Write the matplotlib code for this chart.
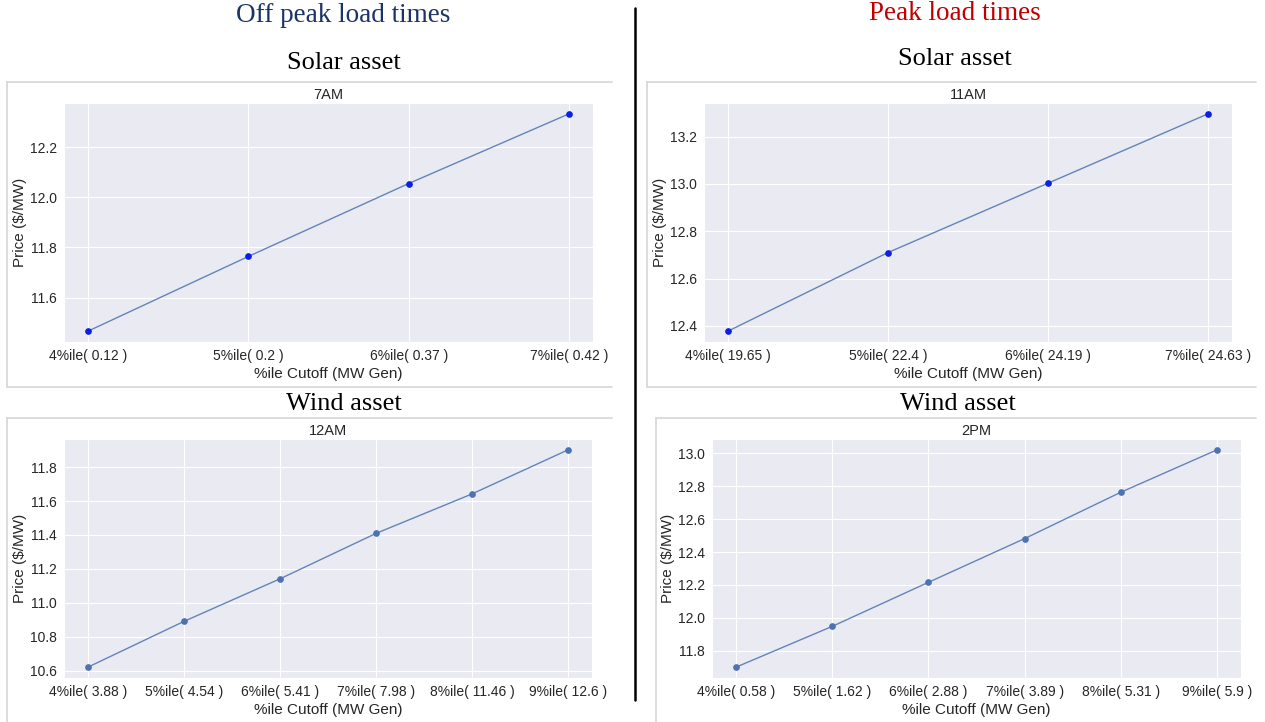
import matplotlib
matplotlib.use("Agg")
import matplotlib.pyplot as plt
import seaborn as sns
from matplotlib.lines import Line2D

# ---------------- data ----------------
solar_off_labels = ['4%ile( 0.12 )', '5%ile( 0.2 )', '6%ile( 0.37 )', '7%ile( 0.42 )']
solar_off_prices = [11.466, 11.764, 12.055, 12.333]

solar_peak_labels = ['4%ile( 19.65 )', '5%ile( 22.4 )', '6%ile( 24.19 )', '7%ile( 24.63 )']
solar_peak_prices = [12.378, 12.710, 13.003, 13.296]

wind_off_labels = ['4%ile( 3.88 )', '5%ile( 4.54 )', '6%ile( 5.41 )', '7%ile( 7.98 )',
                   '8%ile( 11.46 )', '9%ile( 12.6 )']
wind_off_prices = [10.620, 10.890, 11.141, 11.409, 11.642, 11.902]

wind_peak_labels = ['4%ile( 0.58 )', '5%ile( 1.62 )', '6%ile( 2.88 )', '7%ile( 3.89 )',
                    '8%ile( 5.31 )', '9%ile( 5.9 )']
wind_peak_prices = [11.700, 11.948, 12.216, 12.482, 12.764, 13.022]

# ---------------- style ----------------
sns.set_style('darkgrid')
plt.rcParams['font.family'] = ['Liberation Sans', 'DejaVu Sans']

W, H = 1265, 722
fig = plt.figure(figsize=(W / 100, H / 100), dpi=100)
fig.patch.set_facecolor('white')


def rect(x0, y0, x1, y1):
    return [x0 / W, 1 - y1 / H, (x1 - x0) / W, (y1 - y0) / H]


def fx(x):
    return x / W


def fy(y):
    return 1 - y / H


def panel(r, labels, prices, title, marker_color, xmargin):
    ax = fig.add_axes(r)
    n = len(labels)
    xs = list(range(n))
    ax.plot(xs, prices, color='#4c72b0', lw=1.0, alpha=0.85, zorder=2)
    ax.plot(xs, prices, linestyle='none', marker='o', markersize=3.8,
            markerfacecolor=marker_color, markeredgecolor=marker_color, zorder=3)
    ax.set_xticks(xs)
    ax.set_xticklabels(labels)
    ax.set_xlim(-xmargin, n - 1 + xmargin)
    ax.tick_params(axis='both', labelsize=10, colors='#262626', length=0, pad=5)
    ax.set_xlabel('%ile Cutoff (MW Gen)', fontsize=11, color='#262626', labelpad=3)
    ax.set_ylabel('Price ($/MW)', fontsize=11, color='#262626', labelpad=2)
    ax.set_title(title, fontsize=10.5, color='#262626', pad=3)
    return ax


panel(rect(64, 103, 593, 342), solar_off_labels, solar_off_prices, '7AM', '#0a1fe8', 0.15)
panel(rect(704, 103, 1232, 342), solar_peak_labels, solar_peak_prices, '11AM', '#0a1fe8', 0.15)
panel(rect(64, 439, 592, 678), wind_off_labels, wind_off_prices, '12AM', '#4c72b0', 0.25)
panel(rect(712, 439, 1241, 678), wind_peak_labels, wind_peak_prices, '2PM', '#4c72b0', 0.25)

# panel frames (light gray)
box_col = '#d6d6d6'


def hline(x0, x1, y):
    fig.add_artist(Line2D([fx(x0), fx(x1)], [fy(y), fy(y)], color=box_col, lw=1.2,
                          transform=fig.transFigure))


def vline(x, y0, y1, color=box_col, lw=1.2):
    fig.add_artist(Line2D([fx(x), fx(x)], [fy(y0), fy(y1)], color=color, lw=lw,
                          transform=fig.transFigure))


hline(7, 612, 82); hline(7, 612, 387); vline(7, 82, 387)
hline(647, 1256, 82); hline(647, 1256, 387); vline(647, 82, 387)
hline(7, 612, 418); vline(7, 418, 722)
hline(656, 1256, 418); vline(656, 418, 722)

# divider
vline(634.5, 8, 700, color='black', lw=1.8)

# headings
serif = ['Liberation Serif', 'DejaVu Serif']
fig.text(fx(343), fy(15), 'Off peak load times', ha='center', va='center',
         fontsize=19.5, color='#1b3468', family=serif)
fig.text(fx(955), fy(13), 'Peak load times', ha='center', va='center',
         fontsize=19.5, color='#c00000', family=serif)
fig.text(fx(344), fy(63), 'Solar asset', ha='center', va='center',
         fontsize=19, color='black', family=serif)
fig.text(fx(955), fy(59), 'Solar asset', ha='center', va='center',
         fontsize=19, color='black', family=serif)
fig.text(fx(344), fy(404), 'Wind asset', ha='center', va='center',
         fontsize=19, color='black', family=serif)
fig.text(fx(958), fy(404), 'Wind asset', ha='center', va='center',
         fontsize=19, color='black', family=serif)

fig.savefig('out.png', dpi=100, facecolor='white')
